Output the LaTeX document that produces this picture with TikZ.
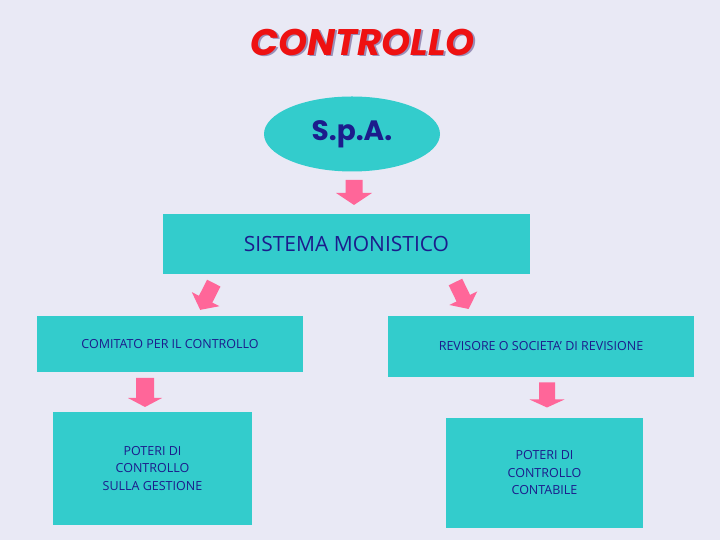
\documentclass[tikz,border=0pt]{standalone}
\usepackage{fontspec}
\setmainfont{Open Sans}
\newfontfamily\titlefont{Poppins}
\usetikzlibrary{shapes.geometric}
\definecolor{bgcol}{HTML}{E9E9F5}
\definecolor{boxcyan}{HTML}{33CCCC}
\definecolor{navy}{HTML}{1C1C8C}
\definecolor{arrowpink}{HTML}{FF6699}
\definecolor{titlered}{HTML}{EE1111}
\definecolor{titleshadow}{HTML}{9A8FB8}
\tikzset{
  box/.style={fill=boxcyan, draw=none, inner sep=0pt, text=navy, align=center},
  smalltext/.style={font=\fontsize{12.5}{17.5}\selectfont},
  titlestyle/.style={font=\titlefont\bfseries\itshape\fontsize{37}{42}\selectfont},
  pics/blockarrow/.style n args={4}{code={
    \fill[arrowpink] ({-#3/2},{#1/2}) -- ({-#3/2},{-#1/2+#2}) -- ({-#4/2},{-#1/2+#2})
      -- (0,{-#1/2}) -- ({#4/2},{-#1/2+#2}) -- ({#3/2},{-#1/2+#2}) -- ({#3/2},{#1/2}) -- cycle;
  }}
}
\begin{document}
\begin{tikzpicture}[x=1pt,y=1pt]
\useasboundingbox (0,0) rectangle (720,540);
\fill[bgcol] (0,0) rectangle (720,540);
% title with shadow
\node[text=titleshadow, titlestyle] at (364.5,496.5) {CONTROLLO};
\node[text=titlered, titlestyle] (title) at (362.5,498) {CONTROLLO};
% S.p.A.
\node[ellipse, fill=boxcyan, minimum width=176, minimum height=75, inner sep=0pt,
      text=navy, font=\titlefont\bfseries\fontsize{28}{32}\selectfont] (spa) at (352,406) {S.p.A.};
% boxes
\node[box, minimum width=367, minimum height=60, font=\fontsize{21}{24}\selectfont] (sis) at (346.5,296) {SISTEMA MONISTICO};
\node[box, smalltext, minimum width=266, minimum height=56] (com) at (170,196) {COMITATO PER IL CONTROLLO};
\node[box, smalltext, minimum width=306, minimum height=61] (rev) at (541,193.5) {REVISORE O SOCIETA’ DI REVISIONE};
\node[box, smalltext, minimum width=199, minimum height=113] (pg) at (152.5,71.5) {POTERI DI\\CONTROLLO\\SULLA GESTIONE};
\node[box, smalltext, minimum width=197, minimum height=110] (pc) at (544.5,67) {POTERI DI\\CONTROLLO\\CONTABILE};
% arrows
\pic at (354,347.5) {blockarrow={25}{12}{17}{36}};
\pic[rotate=-27] at (207,243.5) {blockarrow={30}{12}{15}{31}};
\pic[rotate=26] at (462,244.5) {blockarrow={30}{12}{15}{31}};
\pic at (145,147.5) {blockarrow={29}{9}{18}{34}};
\pic at (547,145) {blockarrow={25}{8}{16}{35}};
\end{tikzpicture}
\end{document}
